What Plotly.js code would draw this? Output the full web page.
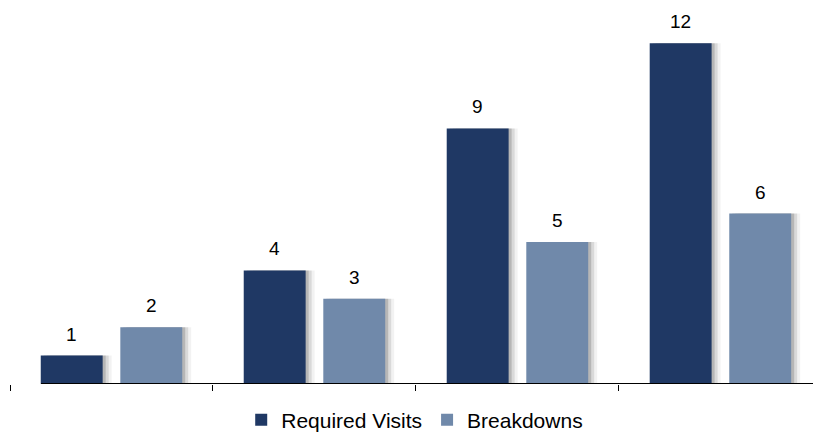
<!DOCTYPE html>
<html>
<head>
<meta charset="utf-8">
<script src="https://cdn.plot.ly/plotly-3.0.1.min.js"></script>
<style>
  html, body { margin: 0; padding: 0; background: #ffffff; }
  #chart { width: 813px; height: 434px; }
</style>
</head>
<body>
<div id="chart"></div>
<script>
// ---- data ----
const categories = ["Period 1", "Period 2", "Period 3", "Period 4"];
const requiredVisits = [1, 4, 9, 12];
const breakdowns = [2, 3, 5, 6];
const seriesNames = ["Required Visits", "Breakdowns"];
const seriesColors = ["#1F3864", "#7089AA"];

// ---- layout helpers (styling only) ----
const barWidth = 0.305;         // in category units
const slot = 0.392;
const offsets = [-slot / 2 - barWidth / 2, slot / 2 - barWidth / 2];
const pxPerUnit = 203;

function shadowTraces(values, off) {
  const layers = [
    {dx: 3, c: "rgba(0,0,0,0.16)"},
    {dx: 6, c: "rgba(0,0,0,0.10)"},
    {dx: 9, c: "rgba(0,0,0,0.05)"}
  ];
  return layers.map(l => ({
    type: "bar", x: categories, y: values,
    width: barWidth, offset: off + l.dx / pxPerUnit,
    marker: {color: l.c, line: {width: 0}},
    showlegend: false, hoverinfo: "skip"
  }));
}

const series = [requiredVisits, breakdowns];
let traces = [];
series.forEach((vals, i) => { traces = traces.concat(shadowTraces(vals, offsets[i])); });
series.forEach((vals, i) => {
  traces.push({
    type: "bar", name: seriesNames[i], x: categories, y: vals,
    width: barWidth, offset: offsets[i],
    marker: {color: seriesColors[i], line: {width: 0}},
    hoverinfo: "skip"
  });
});

const annotations = [];
series.forEach((vals, i) => {
  vals.forEach((v, j) => {
    annotations.push({
      x: categories[j], y: v, xref: "x", yref: "y",
      xshift: (i === 0 ? -1 : 1) * slot / 2 * pxPerUnit,
      yshift: 9, yanchor: "bottom", xanchor: "center",
      text: String(v), showarrow: false,
      font: {family: "Arial, 'Liberation Sans', sans-serif", size: 19, color: "#000000"}
    });
  });
});

const layout = {
  width: 813, height: 434,
  margin: {l: 10, r: 0, t: 0, b: 50, pad: 0, autoexpand: false},
  paper_bgcolor: "#ffffff", plot_bgcolor: "#ffffff",
  barmode: "overlay",
  showlegend: true,
  legend: {
    orientation: "h", x: 0.504, xanchor: "center", y: -0.094, yanchor: "middle",
    font: {family: "Arial, 'Liberation Sans', sans-serif", size: 21, color: "#000000"},
    traceorder: "normal"
  },
  xaxis: {
    type: "category", range: [-0.5, 3.456],
    showticklabels: false, showgrid: false, zeroline: false, showline: false,
    ticks: "outside", tickson: "boundaries", ticklen: 6, tickwidth: 1, tickcolor: "#000000"
  },
  yaxis: {
    range: [0, 13.52], showticklabels: false, showgrid: false, zeroline: false,
    showline: false, ticks: ""
  },
  shapes: [{
    type: "line", xref: "x", yref: "y", x0: -0.347, x1: 3.456, y0: 0, y1: 0,
    line: {color: "#000000", width: 2}
  }],
  annotations: annotations
};

Plotly.newPlot("chart", traces, layout, {displayModeBar: false, staticPlot: true});
</script>
</body>
</html>
